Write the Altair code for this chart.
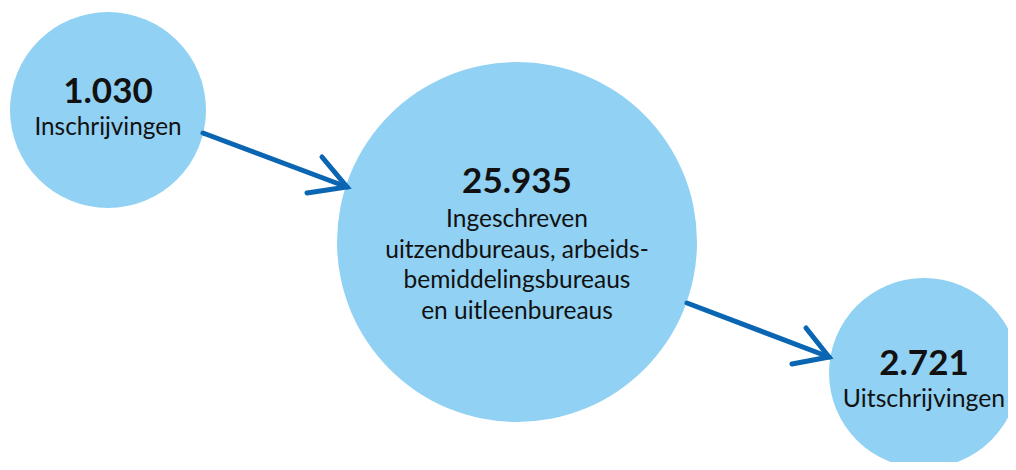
import altair as alt
import pandas as pd

# ---- data ----
numbers = ["1.030", "25.935", "2.721"]
values = [1030, 25935, 2721]
labels = [
    ["Inschrijvingen"],
    ["Ingeschreven", "uitzendbureaus, arbeids-", "bemiddelingsbureaus", "en uitleenbureaus"],
    ["Uitschrijvingen"],
]

# ---- layout (page pixel coordinates) ----
cx = [108, 517, 924]
cy = [110, 242, 373]
radius = [98, 180, 95]
number_base = [103, 193, 375]
label_base = [135, 227, 407]
label_size = [24.3, 24.5, 24.8]
line_step = 30.5

arrow_start = [(203, 133), (687, 303)]
arrow_tip = [(347, 187), (829, 357)]
wing_a = [(322, 157), (806, 328)]
wing_b = [(307, 193), (792, 364)]

CIRCLE = "#91D1F3"
ARROW = "#0A66B2"
TEXT = "#111111"
FONT = "Lato"

circles = pd.DataFrame({
    "x": cx, "y": cy,
    "size": [(2 * r) ** 2 for r in radius],
    "value": values,
})

num_df = pd.DataFrame({"x": cx, "y": number_base, "text": numbers})

lab_rows = []
for i, lines in enumerate(labels):
    for j, t in enumerate(lines):
        lab_rows.append({"x": cx[i], "y": label_base[i] + j * line_step, "text": t, "fs": label_size[i]})
lab_df = pd.DataFrame(lab_rows)

shaft_df = pd.DataFrame({
    "x": [s[0] for s in arrow_start], "y": [s[1] for s in arrow_start],
    "x2": [t[0] for t in arrow_tip], "y2": [t[1] for t in arrow_tip],
})

head_rows = []
for k in range(2):
    for o, p in enumerate([wing_a[k], arrow_tip[k], wing_b[k]]):
        head_rows.append({"x": p[0], "y": p[1], "arrow": k, "o": o})
head_df = pd.DataFrame(head_rows)

W, H = 1000, 454
xs = alt.Scale(domain=[8, 8 + W], nice=False, zero=False)
ys = alt.Scale(domain=[8, 8 + H], nice=False, zero=False, reverse=True)

X = lambda f="x": alt.X(f"{f}:Q", scale=xs, axis=None)
Y = lambda f="y": alt.Y(f"{f}:Q", scale=ys, axis=None)

circle_layer = alt.Chart(circles).mark_circle(opacity=1, color=CIRCLE).encode(
    x=X(), y=Y(), size=alt.Size("size:Q", scale=None, legend=None)
)

shaft_layer = alt.Chart(shaft_df).mark_rule(color=ARROW, strokeWidth=5, strokeCap="round").encode(
    x=X(), y=Y(), x2="x2:Q", y2="y2:Q"
)

head_layer = alt.Chart(head_df).mark_line(
    color=ARROW, strokeWidth=5, strokeCap="round", strokeJoin="miter"
).encode(x=X(), y=Y(), detail="arrow:N", order="o:Q")

num_layer = alt.Chart(num_df).mark_text(
    font=FONT, fontSize=35, fontWeight="bold", color=TEXT, align="center", baseline="alphabetic"
).encode(x=X(), y=Y(), text="text:N")

lab_layer = alt.Chart(lab_df).mark_text(
    font=FONT, color=TEXT, align="center", baseline="alphabetic"
).encode(x=X(), y=Y(), text="text:N", size=alt.Size("fs:Q", scale=None, legend=None))

chart = alt.layer(circle_layer, shaft_layer, head_layer, num_layer, lab_layer).properties(
    width=W, height=H, padding=0, background="white",
    autosize=alt.AutoSizeParams(type="none")
).configure_view(stroke=None)

chart.save("out.html", embed_options={"renderer": "svg", "actions": False})
